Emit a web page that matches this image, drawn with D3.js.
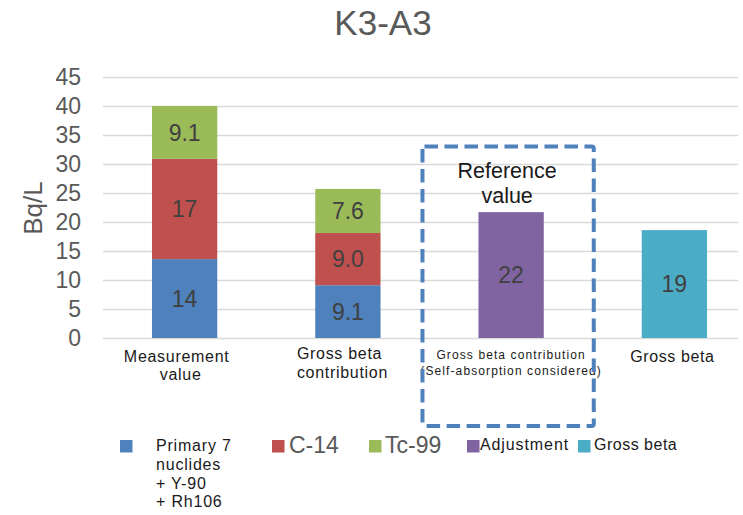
<!DOCTYPE html>
<html>
<head>
<meta charset="utf-8">
<script src="https://cdn.jsdelivr.net/npm/d3@7"></script>
<style>
  html, body { margin: 0; padding: 0; background: #fff; }
  svg { display: block; font-family: "Liberation Sans", Arial, sans-serif; }
</style>
</head>
<body>
<svg id="chart" width="743" height="515"></svg>
<script>
// Categories (x axis), one line per array entry
const categories = [
  ["Measurement", "value"],
  ["Gross beta", "contribution"],
  ["Gross beta contribution", "(Self-absorption considered)"],
  ["Gross beta"]
];

// Stacked series values, Bq/L, one value per category
const primaryNuclides = [13.6, 9.1, 0, 0];
const c14 = [17.3, 9.0, 0, 0];
const tc99 = [9.1, 7.6, 0, 0];
const adjustment = [0, 0, 21.7, 0];
const grossBeta = [0, 0, 0, 18.6];

const seriesNames = ["Primary 7 nuclides + Y-90 + Rh106", "C-14", "Tc-99", "Adjustment", "Gross beta"];
const legendLines = [["Primary 7", "nuclides", "+ Y-90", "+ Rh106"], ["C-14"], ["Tc-99"], ["Adjustment"], ["Gross beta"]];
const yTicks = [0, 5, 10, 15, 20, 25, 30, 35, 40, 45];

const chartTitle = "K3-A3";
const yLabel = "Bq/L";
const boxLabel = ["Reference", "value"];

const colors = ["#4f81bd", "#c0504d", "#9bbb59", "#8064a2", "#4bacc6"];

const svg = d3.select("#chart");
const plot = { left: 103, right: 756, top: 77, bottom: 338 };

const x = d3.scaleBand()
  .domain(d3.range(categories.length))
  .range([plot.left, plot.right])
  .paddingInner(0.6)
  .paddingOuter(0.3);

const y = d3.scaleLinear().domain([0, 45]).range([plot.bottom, plot.top]);

// Title
svg.append("text")
  .attr("x", 383).attr("y", 35)
  .attr("text-anchor", "middle")
  .attr("font-size", 35)
  .attr("fill", "#595959")
  .text(chartTitle);

// Horizontal gridlines
const grid = svg.append("g")
  .attr("transform", `translate(${plot.left},0)`)
  .call(d3.axisLeft(y).tickValues(yTicks).tickSize(-(738 - plot.left)).tickFormat(""));
grid.select(".domain").remove();
grid.selectAll(".tick line").attr("stroke", "#d9d9d9").attr("stroke-width", 1.5);

// Y axis labels
const yAxis = svg.append("g")
  .attr("transform", `translate(${plot.left},0)`)
  .call(d3.axisLeft(y).tickValues(yTicks).tickSize(0).tickPadding(22));
yAxis.select(".domain").remove();
yAxis.selectAll(".tick text")
  .attr("font-size", 23)
  .attr("fill", "#595959")
  .attr("font-family", "Liberation Sans, Arial, sans-serif");

svg.append("text")
  .attr("transform", "translate(42,208) rotate(-90)")
  .attr("text-anchor", "middle")
  .attr("font-size", 26)
  .attr("fill", "#595959")
  .text(yLabel);

// Stacked bars
const rows = categories.map((c, i) => ({
  i,
  s0: primaryNuclides[i], s1: c14[i], s2: tc99[i], s3: adjustment[i], s4: grossBeta[i]
}));
const keys = ["s0", "s1", "s2", "s3", "s4"];
const stacked = d3.stack().keys(keys)(rows);
const fmt = d3.format(".2r");

const layers = svg.append("g").selectAll("g")
  .data(stacked)
  .join("g")
  .attr("fill", (d, k) => colors[k]);

layers.selectAll("rect")
  .data(d => d.filter(p => p[1] - p[0] > 0))
  .join("rect")
  .attr("x", d => x(d.data.i))
  .attr("width", x.bandwidth())
  .attr("y", d => y(d[1]))
  .attr("height", d => y(d[0]) - y(d[1]));

layers.selectAll("text")
  .data(d => d.filter(p => p[1] - p[0] > 0))
  .join("text")
  .attr("x", d => x(d.data.i) + x.bandwidth() / 2)
  .attr("y", d => (y(d[0]) + y(d[1])) / 2)
  .attr("dy", "0.36em")
  .attr("text-anchor", "middle")
  .attr("font-size", 23)
  .attr("fill", "#404040")
  .text(d => fmt(d[1] - d[0]));

// Category labels
const catStyle = [
  { size: 16, ls: 0.7, anchor: "middle", dx: [-8, -4], base: 362, lh: 17.5 },
  { size: 16, ls: 0.7, anchor: "start", dx: [-51, -51], base: 359, lh: 18.7 },
  { size: 12, ls: 1.1, anchor: "middle", dx: [0, 0], base: 359, lh: 16 },
  { size: 16, ls: 0.6, anchor: "middle", dx: [-2], base: 362, lh: 18 }
];
categories.forEach((lines, i) => {
  const st = catStyle[i];
  const t = svg.append("text")
    .attr("text-anchor", st.anchor)
    .attr("font-size", st.size)
    .attr("letter-spacing", st.ls)
    .attr("fill", "#1a1a1a");
  lines.forEach((ln, j) => {
    t.append("tspan")
      .attr("x", x(i) + x.bandwidth() / 2 + st.dx[j])
      .attr("y", st.base + j * st.lh)
      .text(ln);
  });
});

// Dashed box around the reference value column
const refX = x(2);
svg.append("rect")
  .attr("x", refX - 56)
  .attr("y", y(33))
  .attr("width", x.bandwidth() + 106)
  .attr("height", 426 - y(33))
  .attr("rx", 2)
  .attr("fill", "none")
  .attr("stroke", "#4f81bd")
  .attr("stroke-width", 4)
  .attr("stroke-dasharray", "13.5,6.5");

const ref = svg.append("text")
  .attr("text-anchor", "middle")
  .attr("font-size", 21.5)
  .attr("fill", "#1a1a1a");
boxLabel.forEach((ln, j) => {
  ref.append("tspan")
    .attr("x", refX + x.bandwidth() / 2 - 4)
    .attr("y", 178 + j * 24.5)
    .text(ln);
});

// Legend
const legendPos = [
  { sx: 120, tx: 156, size: 16, ls: 0.8, base: 451, fill: "#1a1a1a" },
  { sx: 272, tx: 289, size: 23, ls: 0, base: 453, fill: "#595959" },
  { sx: 369, tx: 385, size: 23, ls: 0, base: 453, fill: "#595959" },
  { sx: 467, tx: 480, size: 16, ls: 0.9, base: 450, fill: "#1a1a1a" },
  { sx: 578, tx: 594, size: 16, ls: 0.5, base: 450, fill: "#1a1a1a" }
];
const legend = svg.append("g").selectAll("g")
  .data(seriesNames)
  .join("g");
legend.append("rect")
  .attr("x", (d, k) => legendPos[k].sx)
  .attr("y", 440)
  .attr("width", 12.5).attr("height", 12.5)
  .attr("fill", (d, k) => colors[k]);
legend.each(function (d, k) {
  const p = legendPos[k];
  const t = d3.select(this).append("text")
    .attr("font-size", p.size)
    .attr("letter-spacing", p.ls)
    .attr("fill", p.fill);
  legendLines[k].forEach((ln, j) => {
    t.append("tspan").attr("x", p.tx).attr("y", p.base + j * 18.8).text(ln);
  });
});
</script>
</body>
</html>
